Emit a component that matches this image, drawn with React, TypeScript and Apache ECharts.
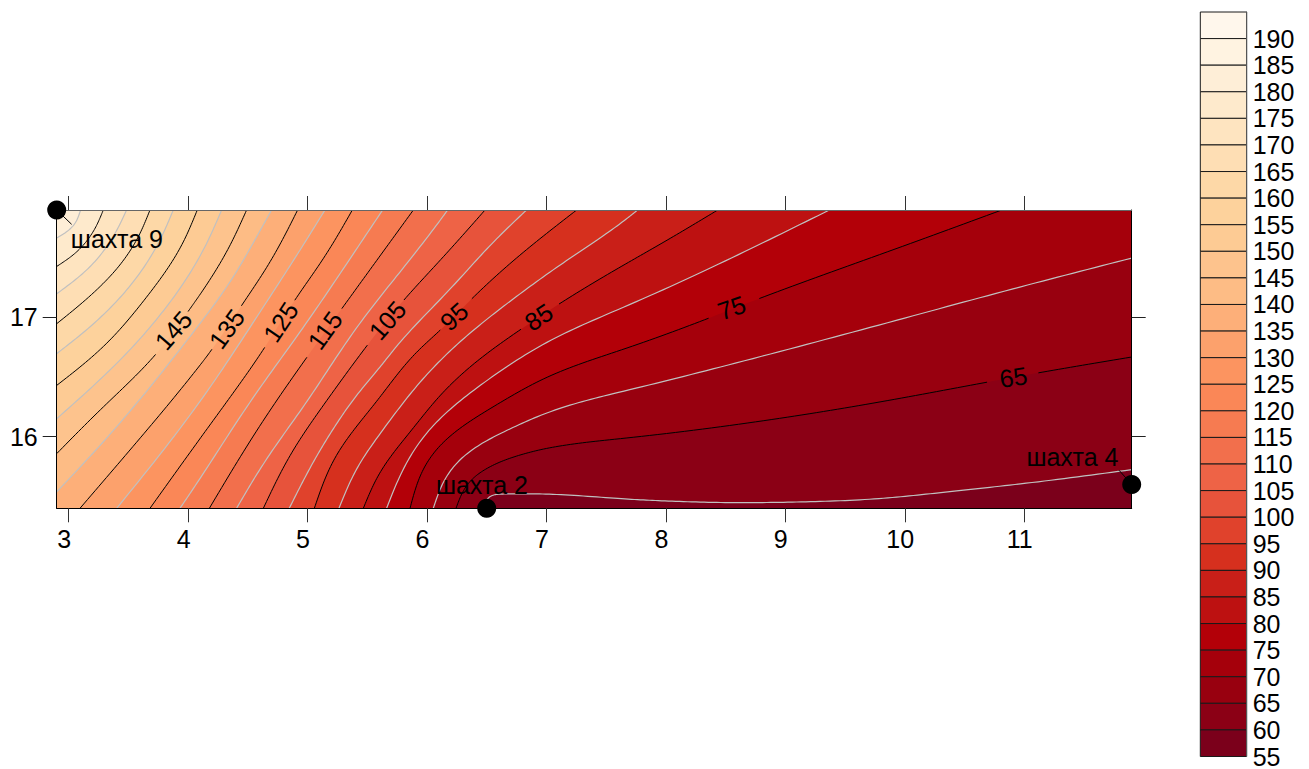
import React, { useEffect, useRef } from "react";
import * as echarts from "echarts";

const FONT = "Liberation Sans";
const FONT_SIZE = 25;
const X_MIN = 2.9, X_MAX = 11.9, Y_MIN = 15.4, Y_MAX = 17.9;
const xTicks = [3, 4, 5, 6, 7, 8, 9, 10, 11];
const yTicks = [16, 17];

const bandLevels = [190,185,180,175,170,165,160,155,150,145,140,135,130,125,120,115,110,105,100,95,90,85,80,75,70,65,60,55];
const bandColors = ["#FFF7EC","#FFF3E1","#FEEED7","#FEEACC","#FEE4C0","#FEDEB4","#FDD8A7","#FDD29C","#FDCB94","#FDC38D","#FDBC85","#FDAF79","#FCA16C","#FC9460","#FA8757","#F67B51","#F26F4C","#EE6346","#E7533B","#E0422C","#D6301E","#C91F18","#BD1111","#B30008","#A5000B","#98000F","#8B0015","#7B001B"];

const c60 = [[11.9,15.724],[10.993,15.607],[10.351,15.537],[9.793,15.481],[9.123,15.453],[8.565,15.447],[8.007,15.461],[7.616,15.481],[7.002,15.52],[6.639,15.52],[6.528,15.501],[6.46,15.4]];
const c65 = [[11.9,16.668],[11.077,16.528],[10.742,16.467],[9.793,16.291],[8.844,16.137],[7.616,15.983],[7.058,15.914],[6.723,15.83],[6.472,15.718],[6.332,15.593],[6.243,15.4]];
const c70 = [[11.9,17.497],[10.909,17.24],[9.793,16.938],[8.565,16.612],[7.616,16.374],[7.058,16.221],[6.639,16.039],[6.332,15.858],[6.151,15.648],[6.053,15.4]];
const c75 = [[10.812,17.9],[9.793,17.527],[8.718,17.134],[8.397,17.008],[7.616,16.723],[7.002,16.5],[6.528,16.235],[6.165,15.983],[5.969,15.732],[5.858,15.4]];
const c80 = [[9.369,17.9],[8.565,17.505],[7.616,17.072],[7.002,16.793],[6.444,16.43],[6.025,16.067],[5.802,15.732],[5.662,15.4]];
const c85 = [[8.434,17.9],[8.007,17.645],[7.616,17.421],[7.086,17.1],[6.793,16.905],[6.444,16.654],[6.109,16.346],[5.858,16.039],[5.607,15.704],[5.467,15.4]];
const c90 = [[7.764,17.9],[7.616,17.784],[7.169,17.477],[6.723,17.156],[6.304,16.821],[5.941,16.458],[5.607,16.025],[5.411,15.732],[5.263,15.4]];
const c95 = [[7.253,17.9],[6.807,17.547],[6.36,17.142],[6.109,16.891],[5.886,16.682],[5.607,16.333],[5.439,16.123],[5.216,15.802],[5.057,15.4]];
const c100 = [[6.834,17.9],[6.528,17.603],[6.165,17.206],[5.774,16.793],[5.607,16.584],[5.411,16.347],[5.216,16.067],[5.048,15.788],[4.847,15.4]];
const c105 = [[6.486,17.9],[6.109,17.477],[5.808,17.148],[5.509,16.779],[5.132,16.263],[4.853,15.844],[4.63,15.4]];
const c110 = [[6.173,17.9],[6.109,17.812],[5.774,17.38],[5.383,16.877],[4.993,16.291],[4.658,15.816],[4.406,15.4]];
const c115 = [[5.886,17.9],[5.579,17.477],[5.286,17.072],[5.006,16.682],[4.602,16.095],[4.178,15.4]];
const c120 = [[5.629,17.9],[5.3,17.408],[4.937,16.877],[4.518,16.291],[4.099,15.648],[3.932,15.4]];
const c125 = [[5.375,17.9],[5.132,17.491],[4.895,17.148],[4.644,16.751],[4.351,16.33],[4.099,15.983],[3.681,15.4]];
const c130 = [[5.146,17.9],[4.909,17.519],[4.602,17.045],[4.099,16.291],[3.402,15.4]];
const c135 = [[4.917,17.9],[4.686,17.463],[4.448,17.1],[4.183,16.709],[4.099,16.598],[3.6,15.99],[3.095,15.4]];
const c140 = [[4.699,17.9],[4.518,17.575],[4.351,17.296],[4.099,16.947],[3.402,16.081],[2.9,15.537]];
const c145 = [[4.49,17.9],[4.337,17.575],[4.099,17.19],[4.016,17.072],[3.737,16.696],[3.318,16.277],[2.9,15.858]];
const c150 = [[4.281,17.9],[4.127,17.561],[3.82,17.087],[3.43,16.64],[2.9,16.151]];
const c155 = [[4.077,17.9],[3.932,17.575],[3.653,17.17],[3.318,16.779],[2.9,16.43]];
const c160 = [[3.876,17.9],[3.75,17.617],[3.485,17.226],[3.178,16.919],[2.9,16.696]];
const c165 = [[3.681,17.9],[3.569,17.645],[3.318,17.31],[2.9,16.947]];
const c170 = [[3.485,17.9],[3.388,17.701],[3.178,17.421],[2.9,17.198]];
const c175 = [[3.29,17.9],[3.22,17.742],[3.067,17.547],[2.9,17.427]];
const c180 = [[3.1,17.9],[3.05,17.78],[2.9,17.665]];

const contourLevels = [60,65,70,75,80,85,90,95,100,105,110,115,120,125,130,135,140,145,150,155,160,165,170,175,180];
const contours = [c60,c65,c70,c75,c80,c85,c90,c95,c100,c105,c110,c115,c120,c125,c130,c135,c140,c145,c150,c155,c160,c165,c170,c175,c180];
const labelGapAfter: Record<number, number> = { 65: 1, 75: 2, 85: 3, 95: 2, 105: 2, 115: 2, 125: 2, 135: 2, 145: 3 };

const contourLabels = [65, 75, 85, 95, 105, 115, 125, 135, 145];
const contourLabelX = [10.909, 8.551, 6.935, 6.226, 5.668, 5.146, 4.775, 4.323, 3.876];
const contourLabelY = [16.5, 17.081, 17.003, 17.008, 16.975, 16.891, 16.961, 16.905, 16.891];
const contourLabelAngle = [9, 19, 33, 42, 49, 54, 56, 54, 49];

const wellNames = ["шахта 9", "шахта 2", "шахта 4"];
const wellX = [2.9, 6.5, 11.9];
const wellY = [17.9, 15.4, 15.6];
const wellLabelX = [3.404, 6.46, 11.404];
const wellLabelY = [17.66, 15.593, 15.83];
const leader9 = [[2.9, 17.9], [3.025, 17.78]];
const leader4 = [[11.9, 15.6], [11.794, 15.719]];

const SAMPLES = 16;

// Natural cubic spline through the read points, chord-length parameter, with a light fairing pass.
function curve(pts: number[][]) {
  const n = pts.length;
  const t = [0];
  for (let i = 1; i < n; i++) t.push(t[i - 1] + Math.max(1e-3, Math.hypot(pts[i][0] - pts[i - 1][0], pts[i][1] - pts[i - 1][1])));
  const second = (v: number[]) => {
    const m = new Array(n).fill(0);
    if (n < 3) return m;
    const c = new Array(n).fill(0), d = new Array(n).fill(0);
    for (let i = 1; i < n - 1; i++) {
      const h0 = t[i] - t[i - 1], h1 = t[i + 1] - t[i];
      const b = 2 * (h0 + h1) - h0 * c[i - 1];
      c[i] = h1 / b;
      d[i] = (6 * ((v[i + 1] - v[i]) / h1 - (v[i] - v[i - 1]) / h0) - h0 * d[i - 1]) / b;
    }
    for (let i = n - 2; i > 0; i--) m[i] = d[i] - c[i] * m[i + 1];
    return m;
  };
  const xs = pts.map((p) => p[0]), ys = pts.map((p) => p[1]);
  const mx = second(xs), my = second(ys);
  const evalAt = (v: number[], m: number[], i: number, u: number) => {
    const h = t[i + 1] - t[i], a = (t[i + 1] - u) / h, b = (u - t[i]) / h;
    return a * v[i] + b * v[i + 1] + ((a * a * a - a) * m[i] + (b * b * b - b) * m[i + 1]) * h * h / 6;
  };
  const out: number[][] = [];
  for (let i = 0; i < n - 1; i++) {
    for (let s = 0; s < SAMPLES; s++) {
      const u = t[i] + ((t[i + 1] - t[i]) * s) / SAMPLES;
      out.push([evalAt(xs, mx, i, u), evalAt(ys, my, i, u)]);
    }
  }
  out.push(pts[n - 1].slice());
  for (let pass = 0; pass < 24; pass++) {
    const prev = out.map((p) => p.slice());
    for (let k = 1; k < out.length - 1; k++) {
      out[k][0] = 0.25 * prev[k - 1][0] + 0.5 * prev[k][0] + 0.25 * prev[k + 1][0];
      out[k][1] = 0.25 * prev[k - 1][1] + 0.5 * prev[k][1] + 0.25 * prev[k + 1][1];
    }
  }
  return out;
}

function buildOption() {
  const axisLine = (color: string) => ({ show: true, onZero: false, lineStyle: { color, width: 1 } });
  const tickX = { show: true, length: 14, customValues: xTicks, lineStyle: { color: "#333", width: 1 } };
  const tickY = { show: true, length: 14, customValues: yTicks, lineStyle: { color: "#222", width: 1 } };
  const labelStyle = { fontFamily: FONT, fontSize: FONT_SIZE, color: "#000" };
  return {
    animation: false,
    backgroundColor: "#fff",
    grid: [
      { left: 56.7, top: 210, width: 1075, height: 298.3 },
      { left: 1200.3, top: 12, width: 46.4, height: 746.3 },
    ],
    xAxis: [
      { type: "value", gridIndex: 0, position: "bottom", min: X_MIN, max: X_MAX, z: 10, splitLine: { show: false }, axisLine: axisLine("#000"), axisTick: tickX,
        axisLabel: { ...labelStyle, customValues: xTicks, margin: 18, padding: [0, 9, 0, 0], formatter: (v: number) => String(v) } },
      { type: "value", gridIndex: 0, position: "top", min: X_MIN, max: X_MAX, z: 10, splitLine: { show: false }, axisLine: axisLine("#666"), axisTick: tickX, axisLabel: { show: false } },
      { type: "value", gridIndex: 1, min: 0, max: 1, show: false },
    ],
    yAxis: [
      { type: "value", gridIndex: 0, position: "left", min: Y_MIN, max: Y_MAX, z: 10, splitLine: { show: false }, axisLine: axisLine("#000"), axisTick: tickY,
        axisLabel: { ...labelStyle, customValues: yTicks, margin: 19, formatter: (v: number) => String(v) } },
      { type: "value", gridIndex: 0, position: "right", min: Y_MIN, max: Y_MAX, z: 10, splitLine: { show: false }, axisLine: axisLine("#000"), axisTick: tickY, axisLabel: { show: false } },
      { type: "value", gridIndex: 1, position: "right", min: 55, max: 195, interval: 5, z: 10, splitLine: { show: false }, axisTick: { show: false }, axisLine: axisLine("#555"),
        axisLabel: { ...labelStyle, margin: 6, showMaxLabel: false, formatter: (v: number) => (v === 195 ? "" : String(v)) } },
    ],
    series: [
      {
        type: "custom", name: "fills", coordinateSystem: "cartesian2d", xAxisIndex: 0, yAxisIndex: 0, clip: true, z: 2,
        data: [55].concat(contourLevels),
        renderItem: (params: any, api: any) => {
          const level = contourLevels[params.dataIndex - 1];
          const fill = bandColors[bandLevels.indexOf(params.dataIndex === 0 ? 55 : level)];
          let poly: number[][];
          if (params.dataIndex === 0) {
            poly = [[X_MIN, Y_MIN], [X_MAX, Y_MIN], [X_MAX, Y_MAX], [X_MIN, Y_MAX]].map((p) => api.coord(p));
          } else {
            const pts = contours[params.dataIndex - 1];
            poly = curve(pts.map((p) => api.coord(p)));
            const first = pts[0], last = pts[pts.length - 1];
            if (last[1] === Y_MIN) poly.push(api.coord([X_MIN, Y_MIN]));
            poly.push(api.coord([X_MIN, Y_MAX]));
            if (first[0] === X_MAX) poly.push(api.coord([X_MAX, Y_MAX]));
          }
          return { type: "polygon", shape: { points: poly }, style: { fill, stroke: "none" } };
        },
      },
      {
        type: "custom", name: "contours", coordinateSystem: "cartesian2d", xAxisIndex: 0, yAxisIndex: 0, clip: true, z: 3,
        data: contourLevels,
        renderItem: (params: any, api: any) => {
          const level = contourLevels[params.dataIndex];
          const samples = curve(contours[params.dataIndex].map((p) => api.coord(p)));
          const even = level % 10 === 0;
          const gap = labelGapAfter[level];
          const parts = gap === undefined
            ? [samples]
            : [samples.slice(0, gap * SAMPLES + 1), samples.slice((gap + 1) * SAMPLES)];
          return {
            type: "group",
            children: parts.map((points) => ({ type: "polyline", shape: { points }, style: { fill: "none", stroke: even ? "#c0c0c0" : "#000", lineWidth: even ? 1.2 : 1 } })),
          };
        },
      },
      {
        type: "custom", name: "contour labels", coordinateSystem: "cartesian2d", xAxisIndex: 0, yAxisIndex: 0, clip: false, z: 4,
        data: contourLabels,
        renderItem: (params: any, api: any) => {
          const i = params.dataIndex;
          const p = api.coord([contourLabelX[i], contourLabelY[i]]);
          return {
            type: "text", x: p[0], y: p[1], rotation: (contourLabelAngle[i] * Math.PI) / 180,
            style: { text: String(contourLabels[i]), fontFamily: FONT, fontSize: FONT_SIZE, fill: "#000", align: "center", verticalAlign: "middle" },
          };
        },
      },
      { type: "line", xAxisIndex: 0, yAxisIndex: 0, data: leader9, symbol: "none", clip: false, z: 5, lineStyle: { color: "#000", width: 1 } },
      { type: "line", xAxisIndex: 0, yAxisIndex: 0, data: leader4, symbol: "none", clip: false, z: 5, lineStyle: { color: "#000", width: 1 } },
      {
        type: "custom", name: "well labels", coordinateSystem: "cartesian2d", xAxisIndex: 0, yAxisIndex: 0, clip: false, z: 6,
        data: wellNames,
        renderItem: (params: any, api: any) => {
          const i = params.dataIndex;
          const p = api.coord([wellLabelX[i], wellLabelY[i]]);
          return { type: "text", x: p[0], y: p[1], style: { text: wellNames[i], fontFamily: FONT, fontSize: FONT_SIZE, fill: "#000", align: "center", verticalAlign: "middle" } };
        },
      },
      {
        type: "scatter", name: "wells", xAxisIndex: 0, yAxisIndex: 0, clip: false, z: 20, symbol: "circle", symbolSize: 19,
        itemStyle: { color: "#000", opacity: 1 },
        data: wellX.map((x, i) => [x, wellY[i]]),
      },
      {
        type: "custom", name: "colorbar", coordinateSystem: "cartesian2d", xAxisIndex: 2, yAxisIndex: 2, clip: false, z: 2,
        data: bandLevels,
        renderItem: (params: any, api: any) => {
          const level = bandLevels[params.dataIndex];
          const a = api.coord([0, level + 5]);
          const b = api.coord([1, level]);
          return {
            type: "rect",
            shape: { x: a[0], y: a[1], width: b[0] - a[0], height: b[1] - a[1] },
            style: { fill: bandColors[params.dataIndex], stroke: "#1a1a1a", lineWidth: 1 },
          };
        },
      },
    ],
  };
}

export default function App() {
  const ref = useRef<HTMLDivElement>(null);
  useEffect(() => {
    const chart = echarts.init(ref.current!, undefined, { renderer: "svg" });
    chart.setOption(buildOption() as any);
    return () => chart.dispose();
  }, []);
  return <div ref={ref} style={{ position: "absolute", left: 0, top: 0, width: 1309, height: 769 }} />;
}
